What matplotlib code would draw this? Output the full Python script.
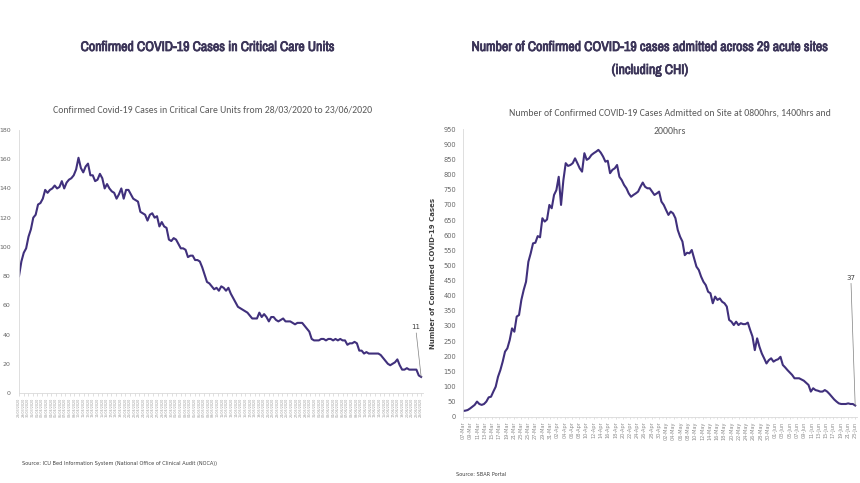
import matplotlib
matplotlib.use("Agg")
import matplotlib.pyplot as plt
import matplotlib.patheffects as pe
import numpy as np
import pandas as pd

# ---------------- data ----------------
left_values = [80, 90, 96, 99, 107, 112, 120, 122, 129, 130, 133, 139, 137, 139, 140, 142, 140, 141,
               145, 140, 144, 146, 147, 149, 153, 161, 154, 151, 155, 157, 149, 149, 145, 146, 150, 147,
               140, 143, 140, 138, 137, 133, 136, 140, 133, 139, 139, 136, 133, 132, 131, 124, 123, 122,
               118, 122, 123, 120, 121, 114, 117, 114, 113, 105, 104, 106, 105, 102, 99, 99, 98, 93,
               94, 94, 91, 91, 90, 86, 81, 76, 75, 73, 71, 72, 70, 73,
               72, 70, 72, 68, 65, 62, 59, 58, 57, 56, 55, 53, 51, 51, 51, 55, 52, 54, 52, 49, 52, 52,
               50, 49, 50, 51, 49, 49, 49, 48, 47, 48, 48, 48, 46, 44, 42, 37, 36, 36, 36, 37, 37, 36,
               37, 37, 36, 37, 36, 37, 36, 36, 33, 34, 34, 35, 34, 29, 29, 27, 28, 27, 27, 27, 27, 27,
               26, 24, 22, 20, 19, 20, 21, 23, 19, 16, 16, 17, 16, 16, 16, 16, 12, 11]
left_dates = list(pd.date_range("2020-03-28", "2020-06-23", freq="D").strftime("%d/%m/%Y"))

right_values = [19, 20, 22, 27, 33, 39, 50, 42, 39, 42, 50, 64, 66, 83, 99, 132, 154, 182, 215, 226,
                253, 292, 281, 331, 336, 386, 419, 446, 512, 540, 573, 575, 597, 593, 656, 645, 652,
                700, 689, 733, 749, 793, 700, 782, 838, 829, 832, 838, 854, 838, 821, 810, 871, 849,
                854, 865, 871, 876, 882, 873, 860, 843, 846, 805, 816, 821, 832, 793, 782, 766, 755,
                738, 727, 733, 738, 744, 760, 774, 760, 755, 755, 744, 733,
                738, 744, 711, 700, 683, 667, 678, 672, 656, 617, 595, 579, 534, 542, 540, 551, 524,
                496, 485, 463, 446, 435, 413, 408, 375, 397, 386, 391, 380, 375, 364, 320, 314, 303,
                314, 303, 309, 306, 306, 311, 287, 265, 220, 259, 231, 209, 193, 176, 187, 193, 182,
                187, 190, 198, 171, 163, 154, 146, 138, 127, 127, 127, 123, 119, 112, 105, 83, 94, 88,
                86, 83, 83, 88, 83, 75, 66, 57, 50, 44, 42, 42, 42, 44, 42, 42, 37]
right_ticklabels = ["07-Mar", "09-Mar", "11-Mar", "13-Mar", "15-Mar", "17-Mar", "19-Mar", "21-Mar",
                    "23-Mar", "25-Mar", "27-Mar", "29-Mar", "31-Mar", "02-Apr", "04-Apr", "06-Apr",
                    "08-Apr", "10-Apr", "12-Apr", "14-Apr", "16-Apr", "18-Apr", "20-Apr", "22-Apr",
                    "24-Apr", "26-Apr", "28-Apr", "30-Apr", "02-May", "04-May", "06-May", "08-May",
                    "10-May", "12-May", "14-May", "16-May", "18-May", "20-May", "22-May", "24-May",
                    "26-May", "28-May", "30-May", "01-Jun", "03-Jun", "05-Jun", "07-Jun", "09-Jun",
                    "11-Jun", "13-Jun", "15-Jun", "17-Jun", "19-Jun", "21-Jun", "23-Jun"]

# ---------------- style ----------------
LINE = "#40307c"
TITLE_C = "#3b3458"
NARROW = ["Liberation Sans Narrow", "Archivo Narrow", "DejaVu Sans"]
SUB = ["Carlito", "DejaVu Sans"]
BOLDFX = [pe.withStroke(linewidth=0.55, foreground=TITLE_C)]

fig = plt.figure(figsize=(8.6, 4.83), dpi=100)

# titles
fig.text(208 / 860, 1 - 47 / 483, "Confirmed COVID-19 Cases in Critical Care Units",
         ha="center", va="center", fontsize=10, fontweight="bold", color=TITLE_C, family=NARROW,
         path_effects=BOLDFX)
fig.text(650 / 860, 1 - 47 / 483, "Number of Confirmed COVID-19 cases admitted across 29 acute sites",
         ha="center", va="center", fontsize=10, fontweight="bold", color=TITLE_C, family=NARROW,
         path_effects=BOLDFX)
fig.text(650 / 860, 1 - 70 / 483, "(including CHI)",
         ha="center", va="center", fontsize=10, fontweight="bold", color=TITLE_C, family=NARROW,
         path_effects=BOLDFX)

fig.text(213 / 860, 1 - 110 / 483,
         "Confirmed Covid-19 Cases in Critical Care Units from 28/03/2020 to 23/06/2020",
         ha="center", va="center", fontsize=7, color="#595959", family=SUB)
fig.text(670 / 860, 1 - 113 / 483,
         "Number of Confirmed COVID-19 Cases Admitted on Site at 0800hrs, 1400hrs and",
         ha="center", va="center", fontsize=7, color="#595959", family=SUB)
fig.text(670 / 860, 1 - 131 / 483, "2000hrs",
         ha="center", va="center", fontsize=7, color="#595959", family=SUB)

# ---------------- left chart ----------------
axL = fig.add_axes([19 / 860, 1 - 393 / 483, (423 - 19) / 860, (393 - 130) / 483])
nL = len(left_dates) - 1
xL = np.linspace(0, nL, len(left_values))
axL.plot(xL, left_values, color=LINE, lw=1.5)
axL.set_ylim(0, 180)
axL.set_xlim(0, nL + 0.4)
axL.set_yticks(range(0, 181, 20))
axL.tick_params(axis="y", labelsize=4.5, colors="#666666", length=0, pad=6)
axL.set_xticks(range(len(left_dates)))
axL.set_xticklabels(left_dates, rotation=90, fontsize=2.4, color="#9a9a9a")
axL.tick_params(axis="x", length=2, width=0.4, color="#c8c8c8", pad=1.5)
for s in ["top", "right"]:
    axL.spines[s].set_visible(False)
for s in ["left", "bottom"]:
    axL.spines[s].set_color("#d9d9d9")
    axL.spines[s].set_linewidth(0.6)
axL.annotate(str(left_values[-1]), xy=(xL[-1], left_values[-1]), xytext=(xL[-1] - 1.2, 43),
             fontsize=5, color="#404040", ha="center", va="bottom",
             arrowprops=dict(arrowstyle="-", color="#7f7f7f", lw=0.5, shrinkA=0, shrinkB=0))

fig.text(22 / 860, 1 - 463 / 483,
         "Source: ICU Bed Information System (National Office of Clinical Audit (NOCA))",
         ha="left", va="center", fontsize=3.6, color="#404040")

# ---------------- right chart ----------------
axR = fig.add_axes([463 / 860, 1 - 416.7 / 483, (857 - 463) / 860, (416.7 - 129.3) / 483])
nR = 2 * (len(right_ticklabels) - 1)
xR = np.linspace(0, nR, len(right_values))
axR.plot(xR, right_values, color=LINE, lw=1.5)
axR.set_ylim(0, 950)
axR.set_xlim(0, nR + 0.5)
axR.set_yticks(range(0, 951, 50))
axR.tick_params(axis="y", labelsize=4.8, colors="#666666", length=0, pad=5)
axR.set_xticks(range(0, nR + 1, 2))
axR.set_xticklabels(right_ticklabels, rotation=90, fontsize=3.6, color="#8c8c8c")
axR.tick_params(axis="x", length=1.5, width=0.4, color="#c8c8c8", pad=2)
axR.set_xticks(range(0, nR + 1), minor=True)
axR.tick_params(axis="x", which="minor", length=1.5, width=0.3, color="#d0d0d0")
for s in ["top", "right"]:
    axR.spines[s].set_visible(False)
for s in ["left", "bottom"]:
    axR.spines[s].set_color("#d9d9d9")
    axR.spines[s].set_linewidth(0.6)
axR.set_ylabel("Number of Confirmed COVID-19 Cases", fontsize=5, color="#404040",
               fontweight="bold", labelpad=5)
axR.annotate(str(right_values[-1]), xy=(xR[-1], right_values[-1]), xytext=(xR[-1] - 1.2, 450),
             fontsize=5, color="#404040", ha="center", va="bottom",
             arrowprops=dict(arrowstyle="-", color="#7f7f7f", lw=0.5, shrinkA=0, shrinkB=0))

fig.text(456 / 860, 1 - 474 / 483, "Source: SBAR Portal",
         ha="left", va="center", fontsize=3.6, color="#404040")

fig.savefig("out.png", dpi=100, facecolor="white")
